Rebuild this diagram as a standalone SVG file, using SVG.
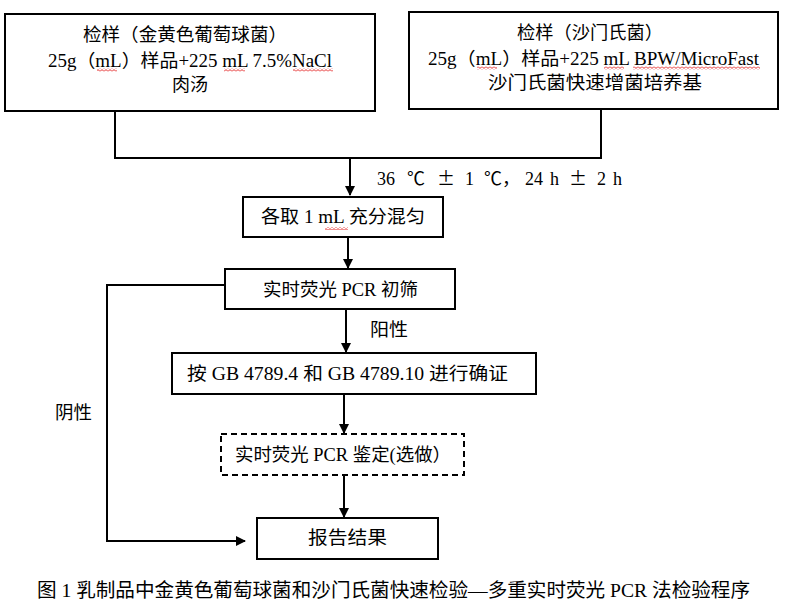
<svg xmlns="http://www.w3.org/2000/svg" width="807" height="612" viewBox="0 0 807 612">
<style>
.box{fill:#fff;stroke:#000;stroke-width:2}
.dash{fill:#fff;stroke:#000;stroke-width:2;stroke-dasharray:6 4}
.t{font-family:"Liberation Serif","Noto Sans CJK SC",serif;font-size:18px;fill:#000}
.cjk{font-family:"Noto Sans CJK SC",sans-serif}
.ln{fill:none;stroke:#000;stroke-width:2}
.sq{fill:url(#sq)}
</style>
<defs>
<marker id="ah" viewBox="0 0 10 10" refX="9" refY="5" markerWidth="10" markerHeight="11" orient="auto" markerUnits="userSpaceOnUse">
<path d="M0,0 L10,5 L0,10 z" fill="#000"/>
</marker>
<pattern id="sq" width="4" height="3" patternUnits="userSpaceOnUse">
<path d="M0,2.4 L2,0.6 L4,2.4" fill="none" stroke="#e00000" stroke-width="0.8"/>
</pattern>
</defs>
<rect width="807" height="612" fill="#fff"/>

<g id="connectors">
<polyline class="ln" points="115,111 115,158 601,158 601,109"/>
<line class="ln" x1="350" y1="158" x2="350" y2="195" marker-end="url(#ah)"/>
<line class="ln" x1="348" y1="237" x2="348" y2="268" marker-end="url(#ah)"/>
<line class="ln" x1="346" y1="309" x2="346" y2="352" marker-end="url(#ah)"/>
<line class="ln" x1="344" y1="394" x2="344" y2="433" marker-end="url(#ah)"/>
<line class="ln" x1="344" y1="475" x2="344" y2="517" marker-end="url(#ah)"/>
<polyline class="ln" points="225,285 107,285 107,541 245,541" marker-end="url(#ah)"/>
<text class="t" x="370" y="336" textLength="38" lengthAdjust="spacingAndGlyphs">阳性</text>
<text class="t" x="55" y="419" textLength="37" lengthAdjust="spacingAndGlyphs">阴性</text>
<text class="t" y="185"><tspan x="377">36</tspan><tspan x="407" class="cjk">℃</tspan><tspan x="437" class="cjk">±</tspan><tspan x="465">1</tspan><tspan x="484" class="cjk">℃，</tspan><tspan x="525">24</tspan><tspan x="550">h</tspan><tspan x="569" class="cjk">±</tspan><tspan x="597">2</tspan><tspan x="613">h</tspan></text>
</g>

<g id="node-sa">
<rect class="box" x="5" y="14" width="370" height="97"/>
<text class="t" x="83" y="41" textLength="204" lengthAdjust="spacingAndGlyphs">检样（金黄色葡萄球菌）</text>
<text class="t" x="48" y="67" textLength="284" lengthAdjust="spacingAndGlyphs">25g（mL）样品+225 mL 7.5%NaCl</text>
<text class="t" x="172" y="91" textLength="36" lengthAdjust="spacingAndGlyphs">肉汤</text>
<rect class="sq" x="97" y="68.5" width="20" height="3"/>
<rect class="sq" x="224" y="68.5" width="21" height="3"/>
<rect class="sq" x="293" y="68.5" width="40" height="3"/>
</g>

<g id="node-sal">
<rect class="box" x="409" y="12" width="369" height="97"/>
<text class="t" x="517" y="39" textLength="146" lengthAdjust="spacingAndGlyphs">检样（沙门氏菌）</text>
<text class="t" x="428" y="65" textLength="331" lengthAdjust="spacingAndGlyphs">25g（mL）样品+225 mL BPW/MicroFast</text>
<text class="t" x="488" y="89" textLength="214" lengthAdjust="spacingAndGlyphs">沙门氏菌快速增菌培养基</text>
<rect class="sq" x="477" y="66.5" width="20" height="3"/>
<rect class="sq" x="604" y="66.5" width="20" height="3"/>
<rect class="sq" x="633" y="66.5" width="127" height="3"/>
</g>

<g id="node-mix">
<rect class="box" x="243" y="197" width="200" height="40"/>
<text class="t" x="261" y="223" textLength="164" lengthAdjust="spacingAndGlyphs">各取 1 mL 充分混匀</text>
<rect class="sq" x="325" y="227" width="23" height="3"/>
</g>

<g id="node-screen">
<rect class="box" x="225" y="269" width="230" height="40"/>
<text class="t" x="263" y="296" textLength="155" lengthAdjust="spacingAndGlyphs">实时荧光 PCR 初筛</text>
</g>

<g id="node-confirm">
<rect class="box" x="172" y="353" width="364" height="41"/>
<text class="t" x="187" y="380" textLength="321" lengthAdjust="spacingAndGlyphs">按 GB 4789.4 和 GB 4789.10 进行确证</text>
</g>

<g id="node-identify">
<rect class="dash" x="221" y="434" width="243" height="41"/>
<text class="t" x="235" y="461" textLength="216" lengthAdjust="spacingAndGlyphs">实时荧光 PCR 鉴定(选做）</text>
</g>

<g id="node-report">
<rect class="box" x="257" y="518" width="181" height="41"/>
<text class="t" x="308" y="544" textLength="79" lengthAdjust="spacingAndGlyphs">报告结果</text>
</g>

<text class="t" x="37" y="597" style="font-size:19.5px" textLength="713" lengthAdjust="spacingAndGlyphs">图 1 乳制品中金黄色葡萄球菌和沙门氏菌快速检验—多重实时荧光 PCR 法检验程序</text>
</svg>
